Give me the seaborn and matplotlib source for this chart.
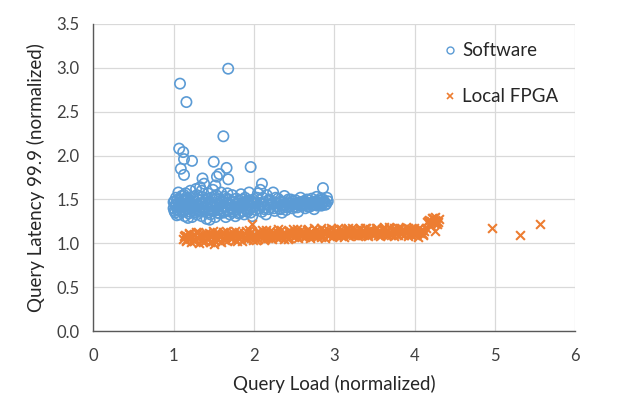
import numpy as np
import pandas as pd
import seaborn as sns
import matplotlib.pyplot as plt
from matplotlib.lines import Line2D

# Software: (query load, latency 99.9)
sw_load = [
    1.00, 1.01, 1.02, 1.03, 1.04, 1.05, 1.06, 1.07, 1.08, 1.09, 1.10, 1.02, 1.05, 1.08, 1.00, 1.04,
    1.11, 1.12, 1.13, 1.14, 1.15, 1.16, 1.17, 1.18, 1.19, 1.20, 1.21, 1.22, 1.23, 1.24, 1.25, 1.26,
    1.27, 1.28, 1.29, 1.30, 1.13, 1.18, 1.22, 1.27,
    1.31, 1.32, 1.33, 1.34, 1.35, 1.36, 1.37, 1.38, 1.39, 1.40, 1.41, 1.42, 1.43, 1.44, 1.45, 1.46,
    1.47, 1.48, 1.49, 1.50, 1.51, 1.52, 1.53, 1.54, 1.55, 1.56, 1.57, 1.58, 1.59, 1.60, 1.35, 1.45, 1.52,
    1.61, 1.62, 1.63, 1.64, 1.65, 1.66, 1.67, 1.68, 1.69, 1.70, 1.71, 1.72, 1.73, 1.74, 1.75, 1.76,
    1.77, 1.78, 1.79, 1.80, 1.81, 1.82, 1.83, 1.84, 1.85, 1.86, 1.87, 1.88, 1.89, 1.90, 1.91, 1.92,
    1.93, 1.94, 1.95, 1.96, 1.97, 1.98, 1.99, 2.00,
    2.02, 2.04, 2.06, 2.08, 2.10, 2.12, 2.14, 2.16, 2.18, 2.20, 2.22, 2.24, 2.26, 2.28, 2.30, 2.32,
    2.34, 2.36, 2.38, 2.40, 2.42, 2.44, 2.46, 2.48, 2.50, 2.15, 2.35, 2.05,
    2.52, 2.54, 2.56, 2.58, 2.60, 2.62, 2.64, 2.66, 2.68, 2.70, 2.72, 2.74, 2.76, 2.78, 2.80, 2.82,
    2.84, 2.86, 2.88, 2.90, 2.91, 2.75, 2.55,
    1.01, 1.03, 1.06, 1.09, 1.11, 1.14, 1.16, 1.19, 1.21, 1.24, 1.26, 1.29, 1.31, 1.33, 1.36, 1.38,
    1.41, 1.43, 1.46, 1.48, 1.51, 1.53, 1.56, 1.58, 1.61, 1.63, 1.66, 1.68, 1.71, 1.73, 1.76, 1.78,
    1.81, 1.83, 1.86, 1.88, 1.91, 1.93, 1.96, 1.98, 2.01, 2.03, 2.07, 2.09, 2.11, 2.13, 2.17, 2.19,
    2.21, 2.23, 2.25, 2.27, 2.29, 2.31, 2.33, 2.37, 2.39, 2.41, 2.43, 2.45, 2.47, 2.49, 2.51, 2.53,
    2.57, 2.59, 2.61, 2.63, 2.65, 2.67, 2.69, 2.71, 2.73, 2.77, 2.79, 2.81, 2.83, 2.85, 2.87, 2.89,
    2.92,
    # outliers
    1.68, 1.08, 1.16, 1.62, 1.07, 1.12, 1.13, 1.23, 1.50, 1.09, 1.13, 1.66, 1.54, 1.57, 1.68, 1.96,
    2.86, 2.10, 1.36,
]
sw_latency = [
    1.40, 1.48, 1.35, 1.52, 1.44, 1.38, 1.58, 1.33, 1.46, 1.41, 1.54, 1.43, 1.50, 1.37, 1.47, 1.32,
    1.36, 1.49, 1.42, 1.31, 1.57, 1.45, 1.39, 1.51, 1.34, 1.47, 1.60, 1.40, 1.30, 1.53, 1.44, 1.37,
    1.48, 1.62, 1.33, 1.42, 1.55, 1.29, 1.46, 1.35,
    1.50, 1.38, 1.64, 1.45, 1.31, 1.53, 1.41, 1.68, 1.36, 1.49, 1.28, 1.44, 1.57, 1.39, 1.47, 1.33,
    1.52, 1.42, 1.61, 1.37, 1.46, 1.30, 1.55, 1.43, 1.38, 1.50, 1.34, 1.45, 1.58, 1.40, 1.60, 1.27, 1.66,
    1.48, 1.35, 1.53, 1.42, 1.30, 1.46, 1.57, 1.38, 1.50, 1.33, 1.44, 1.40, 1.55, 1.36, 1.47, 1.42,
    1.31, 1.51, 1.39, 1.45, 1.34, 1.49, 1.41, 1.56, 1.37, 1.46, 1.43, 1.33, 1.52, 1.40, 1.47, 1.36,
    1.44, 1.58, 1.39, 1.48, 1.42, 1.31, 1.50, 1.45,
    1.38, 1.52, 1.43, 1.61, 1.36, 1.47, 1.41, 1.55, 1.39, 1.49, 1.44, 1.58, 1.37, 1.46, 1.51, 1.40,
    1.48, 1.43, 1.54, 1.38, 1.47, 1.42, 1.50, 1.40, 1.45, 1.33, 1.35, 1.57,
    1.49, 1.41, 1.46, 1.52, 1.43, 1.48, 1.40, 1.50, 1.45, 1.42, 1.51, 1.47, 1.44, 1.53, 1.46, 1.49,
    1.43, 1.50, 1.47, 1.45, 1.52, 1.39, 1.36,
    1.37, 1.45, 1.42, 1.50, 1.44, 1.38, 1.52, 1.43, 1.36, 1.47, 1.41, 1.55, 1.43, 1.36, 1.46, 1.40,
    1.51, 1.35, 1.44, 1.37, 1.53, 1.41, 1.35, 1.48, 1.42, 1.37, 1.51, 1.44, 1.36, 1.48, 1.38, 1.44,
    1.41, 1.35, 1.50, 1.45, 1.38, 1.49, 1.35, 1.46, 1.42, 1.47, 1.40, 1.45, 1.52, 1.39, 1.44, 1.50,
    1.41, 1.46, 1.40, 1.52, 1.42, 1.45, 1.39, 1.47, 1.44, 1.41, 1.50, 1.45, 1.43, 1.48, 1.42, 1.46,
    1.43, 1.47, 1.45, 1.44, 1.47, 1.42, 1.49, 1.46, 1.44, 1.48, 1.43, 1.46, 1.51, 1.45, 1.48, 1.44,
    1.48,
    # outliers
    2.99, 2.82, 2.61, 2.22, 2.08, 2.04, 1.96, 1.94, 1.93, 1.85, 1.78, 1.86, 1.76, 1.79, 1.73, 1.87,
    1.63, 1.68, 1.74,
]

# Local FPGA
fpga_load = [
    1.12, 1.14, 1.15, 1.17, 1.19, 1.20, 1.22, 1.24, 1.25, 1.27,
    1.29, 1.30, 1.32, 1.34, 1.35, 1.37, 1.39, 1.40, 1.42, 1.44,
    1.45, 1.47, 1.49, 1.50, 1.52, 1.54, 1.55, 1.57, 1.59, 1.60,
    1.62, 1.64, 1.65, 1.67, 1.69, 1.70, 1.72, 1.74, 1.75, 1.77,
    1.79, 1.80, 1.82, 1.84, 1.85, 1.87, 1.89, 1.90, 1.92, 1.94,
    1.95, 1.97, 1.99, 2.00, 2.02, 2.04, 2.05, 2.07, 2.09, 2.10,
    2.12, 2.14, 2.15, 2.17, 2.19, 2.20, 2.22, 2.24, 2.25, 2.27,
    2.29, 2.30, 2.32, 2.34, 2.35, 2.37, 2.39, 2.40, 2.42, 2.44,
    2.45, 2.47, 2.49, 2.50, 2.52, 2.54, 2.55, 2.57, 2.59, 2.60,
    2.62, 2.64, 2.65, 2.67, 2.69, 2.70, 2.72, 2.74, 2.75, 2.77,
    2.79, 2.80, 2.82, 2.84, 2.85, 2.87, 2.89, 2.90, 2.92, 2.94,
    2.95, 2.97, 2.99, 3.00, 3.02, 3.04, 3.05, 3.07, 3.09, 3.10,
    3.12, 3.14, 3.15, 3.17, 3.19, 3.20, 3.22, 3.24, 3.25, 3.27,
    3.29, 3.30, 3.32, 3.34, 3.35, 3.37, 3.39, 3.40, 3.42, 3.44,
    3.45, 3.47, 3.49, 3.50, 3.52, 3.54, 3.55, 3.57, 3.59, 3.60,
    3.62, 3.64, 3.65, 3.67, 3.69, 3.70, 3.72, 3.74, 3.75, 3.77,
    3.79, 3.80, 3.82, 3.84, 3.85, 3.87, 3.89, 3.90, 3.92, 3.94,
    3.95, 3.97, 3.99, 4.00, 4.02, 4.04, 4.05, 4.07, 4.09, 4.10,
    4.12, 4.14,
    1.13, 1.16, 1.19, 1.22, 1.25, 1.28, 1.31, 1.34, 1.37, 1.40,
    1.43, 1.46, 1.49, 1.52, 1.55, 1.58, 1.61, 1.64, 1.67, 1.70,
    1.73, 1.76, 1.79, 1.82, 1.85, 1.88, 1.91, 1.94, 1.97, 2.00,
    2.03, 2.06, 2.09, 2.12, 2.15, 2.18, 2.21, 2.24, 2.27, 2.30,
    2.33, 2.36, 2.39, 2.42, 2.45, 2.48, 2.51, 2.54, 2.57, 2.60,
    2.63, 2.66, 2.69, 2.72, 2.75, 2.78, 2.81, 2.84, 2.87, 2.90,
    2.93, 2.96, 2.99, 3.02, 3.05, 3.08, 3.11, 3.14, 3.17, 3.20,
    3.23, 3.26, 3.29, 3.32, 3.35, 3.38, 3.41, 3.44, 3.47, 3.50,
    3.53, 3.56, 3.59, 3.62, 3.65, 3.68, 3.71, 3.74, 3.77, 3.80,
    3.83, 3.86, 3.89, 3.92, 3.95, 3.98, 4.01, 4.04, 4.07, 4.11,
    4.16, 4.18, 4.19, 4.21, 4.22, 4.24, 4.25, 4.27, 4.28, 4.30, 4.20, 4.26,
    4.17, 4.23, 4.29, 4.19, 4.26,
    1.98, 4.26, 4.96, 5.31, 5.56, 1.50,
]
fpga_latency = [
    1.05, 1.10, 1.03, 1.08, 1.12, 1.06, 1.02, 1.09, 1.11, 1.04,
    1.07, 1.13, 1.01, 1.08, 1.05, 1.11, 1.03, 1.09, 1.06, 1.12,
    1.02, 1.08, 1.10, 1.04, 1.07, 1.13, 1.05, 1.09, 1.02, 1.11,
    1.06, 1.08, 1.14, 1.03, 1.10, 1.07, 1.05, 1.12, 1.09, 1.04,
    1.11, 1.06, 1.13, 1.08, 1.03, 1.10, 1.07, 1.14, 1.05, 1.09,
    1.12, 1.06, 1.04, 1.10, 1.08, 1.13, 1.05, 1.11, 1.07, 1.15,
    1.04, 1.09, 1.12, 1.06, 1.10, 1.14, 1.05, 1.08, 1.11, 1.07,
    1.13, 1.06, 1.10, 1.15, 1.08, 1.05, 1.12, 1.09, 1.14, 1.06,
    1.11, 1.08, 1.16, 1.07, 1.10, 1.13, 1.06, 1.09, 1.15, 1.08,
    1.12, 1.07, 1.10, 1.16, 1.09, 1.06, 1.13, 1.11, 1.08, 1.15,
    1.07, 1.12, 1.10, 1.17, 1.08, 1.13, 1.06, 1.11, 1.15, 1.09,
    1.12, 1.07, 1.16, 1.10, 1.13, 1.08, 1.17, 1.11, 1.09, 1.14,
    1.07, 1.12, 1.16, 1.10, 1.08, 1.13, 1.18, 1.09, 1.12, 1.15,
    1.08, 1.11, 1.17, 1.10, 1.14, 1.09, 1.12, 1.18, 1.08, 1.13,
    1.16, 1.11, 1.09, 1.14, 1.18, 1.10, 1.13, 1.08, 1.16, 1.12,
    1.19, 1.10, 1.14, 1.09, 1.17, 1.12, 1.15, 1.08, 1.18, 1.11,
    1.14, 1.09, 1.17, 1.12, 1.15, 1.10, 1.19, 1.13, 1.08, 1.16,
    1.11, 1.14, 1.18, 1.10, 1.13, 1.07, 1.17, 1.12, 1.15, 1.09,
    1.14, 1.18,
    1.08, 1.04, 1.11, 1.07, 1.03, 1.13, 1.06, 1.10, 1.02, 1.12,
    1.05, 1.09, 1.14, 1.03, 1.11, 1.07, 1.13, 1.04, 1.09, 1.12,
    1.06, 1.14, 1.03, 1.10, 1.08, 1.12, 1.05, 1.15, 1.07, 1.11,
    1.04, 1.13, 1.09, 1.07, 1.15, 1.11, 1.06, 1.13, 1.09, 1.16,
    1.07, 1.12, 1.10, 1.05, 1.14, 1.12, 1.08, 1.16, 1.11, 1.13,
    1.07, 1.15, 1.12, 1.09, 1.17, 1.10, 1.14, 1.07, 1.15, 1.13,
    1.10, 1.17, 1.08, 1.14, 1.11, 1.16, 1.09, 1.13, 1.18, 1.11,
    1.15, 1.09, 1.13, 1.16, 1.11, 1.18, 1.10, 1.15, 1.13, 1.11,
    1.17, 1.14, 1.11, 1.16, 1.12, 1.19, 1.10, 1.15, 1.13, 1.17,
    1.11, 1.16, 1.13, 1.18, 1.10, 1.15, 1.12, 1.16, 1.14, 1.11,
    1.24, 1.27, 1.22, 1.26, 1.29, 1.23, 1.27, 1.25, 1.22, 1.28, 1.20, 1.30,
    1.26, 1.29, 1.24, 1.21, 1.24,
    1.22, 1.14, 1.17, 1.10, 1.22, 0.99,
]

SW_COLOR = '#5B9BD5'
FPGA_COLOR = '#ED7D31'

sw = pd.DataFrame({'load': sw_load, 'latency': sw_latency})
fpga = pd.DataFrame({'load': fpga_load, 'latency': fpga_latency})

sns.set_style('white')
plt.rcParams['font.family'] = ['Lato', 'DejaVu Sans']

fig, ax = plt.subplots(figsize=(6.3, 3.99), dpi=100)
fig.subplots_adjust(left=0.148, right=0.913, top=0.94, bottom=0.17)

sns.scatterplot(data=sw, x='load', y='latency', ax=ax, marker='o', s=55,
                facecolors='none', edgecolor=SW_COLOR, linewidth=1.2, zorder=3)
sns.scatterplot(data=fpga, x='load', y='latency', ax=ax, marker='x', s=40,
                color=FPGA_COLOR, linewidth=1.5, zorder=3)

ax.set_xlim(0, 6)
ax.set_ylim(0, 3.5)
ax.set_xticks(range(0, 7))
ax.set_yticks(np.arange(0, 3.51, 0.5))
ax.set_yticklabels([f'{v:.1f}' for v in np.arange(0, 3.51, 0.5)])
ax.grid(True, color='#D9D9D9', linewidth=0.9)
ax.set_axisbelow(True)
for side in ['top', 'right']:
    ax.spines[side].set_visible(False)
for side in ['left', 'bottom']:
    ax.spines[side].set_color('#595959')
    ax.spines[side].set_linewidth(1.0)
ax.tick_params(axis='both', labelsize=12, colors='#404040', length=0)
ax.tick_params(axis='x', pad=12)
ax.tick_params(axis='y', pad=10)

ax.set_xlabel('Query Load (normalized)', fontsize=13.5, color='#262626', labelpad=8)
ax.set_ylabel('Query Latency 99.9 (normalized)', fontsize=13.5, color='#262626', labelpad=8)

handles = [
    Line2D([], [], linestyle='none', marker='o', markersize=5, markerfacecolor='none',
           markeredgecolor=SW_COLOR, markeredgewidth=1.0),
    Line2D([], [], linestyle='none', marker='x', markersize=5, color=FPGA_COLOR,
           markeredgewidth=1.2),
]
ax.legend(handles, ['Software', 'Local FPGA'], loc='upper right',
          bbox_to_anchor=(1.0, 0.995), frameon=False, fontsize=13.5,
          labelspacing=1.55, handletextpad=0.15, handlelength=1.0)

plt.savefig('out.png', dpi=100)
